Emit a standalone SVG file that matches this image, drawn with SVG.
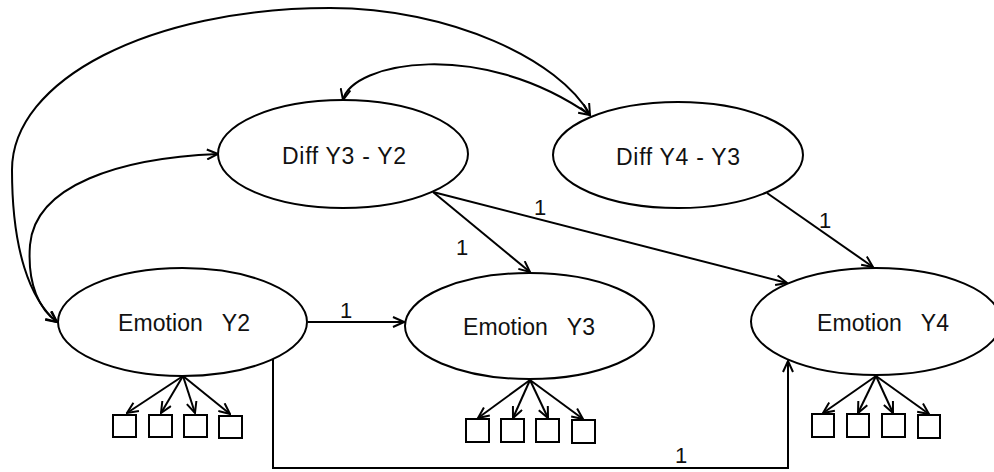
<svg xmlns="http://www.w3.org/2000/svg" width="994" height="472" viewBox="0 0 994 472">
<style>
.node ellipse{fill:#fff;stroke:#000;stroke-width:2}
.node rect{fill:#fff;stroke:#000;stroke-width:2}
.lbl{font-family:"Liberation Sans",Arial,sans-serif;font-size:23px;fill:#111;text-anchor:middle}
.w{font-family:"Liberation Sans",Arial,sans-serif;font-size:22px;fill:#111;text-anchor:middle}
.e{fill:none;stroke:#000;stroke-width:2}
.a{marker-end:url(#ah)}
.b{marker-end:url(#ah);marker-start:url(#ah)}
</style>
<defs>
<marker id="ah" viewBox="-1 -1 13 12" refX="11" refY="5" markerWidth="13" markerHeight="12" markerUnits="userSpaceOnUse" orient="auto-start-reverse">
<path d="M0,0 L11,5 L0,10" fill="none" stroke="#000" stroke-width="2"/>
</marker>
</defs>
<rect width="994" height="472" fill="#fff"/>
<g id="connectors">
<path class="e b" d="M590 115 C 560 60, 450 8, 330 8 C 150 8, 12 80, 12 170 C 12 250, 30 300, 57 322"/>
<path class="e b" d="M218 154 C 120 158, 35 185, 30 245 C 27 285, 40 310, 57 322"/>
<path class="e b" d="M343 100 C 352 62, 480 38, 590 115"/>
<path class="e a" d="M308 322 L404 322"/>
<path class="e a" d="M433 192 L530 272"/>
<path class="e a" d="M433 192 L787 283"/>
<path class="e a" d="M767 193 L873 267"/>
<path class="e a" d="M273 359 L273 468 L788 468 L788 361"/>
<path class="e a" d="M183 376 L127 413"/>
<path class="e a" d="M183 376 L161 413"/>
<path class="e a" d="M183 376 L195 413"/>
<path class="e a" d="M183 376 L230 414"/>
<path class="e a" d="M530 380 L478 418"/>
<path class="e a" d="M530 380 L513 418"/>
<path class="e a" d="M530 380 L548 418"/>
<path class="e a" d="M530 380 L583 419"/>
<path class="e a" d="M876 376 L823 413"/>
<path class="e a" d="M876 376 L858 413"/>
<path class="e a" d="M876 376 L893 413"/>
<path class="e a" d="M876 376 L929 414"/>
<text class="w" x="346" y="318">1</text>
<text class="w" x="462" y="255">1</text>
<text class="w" x="540" y="215">1</text>
<text class="w" x="825" y="228">1</text>
<text class="w" x="681" y="463">1</text>
</g>
<g id="diff32" class="node">
<ellipse cx="343" cy="154" rx="125" ry="54"/>
<text class="lbl" x="344" y="164" textLength="124" lengthAdjust="spacing">Diff Y3 - Y2</text>
</g>
<g id="diff43" class="node">
<ellipse cx="678" cy="155" rx="125" ry="53"/>
<text class="lbl" x="678" y="165" textLength="124" lengthAdjust="spacing">Diff Y4 - Y3</text>
</g>
<g id="emo2" class="node">
<ellipse cx="182.5" cy="322" rx="124.5" ry="54"/>
<text class="lbl" x="184" y="331" xml:space="preserve" textLength="132" lengthAdjust="spacing">Emotion   Y2</text>
</g>
<g id="emo3" class="node">
<ellipse cx="529.5" cy="326" rx="124.5" ry="53"/>
<text class="lbl" x="529" y="335" xml:space="preserve" textLength="132" lengthAdjust="spacing">Emotion   Y3</text>
</g>
<g id="emo4" class="node">
<ellipse cx="876" cy="321.5" rx="125" ry="53.5"/>
<text class="lbl" x="883" y="331" xml:space="preserve" textLength="132" lengthAdjust="spacing">Emotion   Y4</text>
</g>
<g id="ind2a" class="node"><rect x="113" y="415" width="23" height="22"/></g>
<g id="ind2b" class="node"><rect x="149" y="415" width="23" height="22"/></g>
<g id="ind2c" class="node"><rect x="184" y="415" width="23" height="22"/></g>
<g id="ind2d" class="node"><rect x="219" y="416" width="23" height="22"/></g>
<g id="ind3a" class="node"><rect x="466" y="419" width="23" height="23"/></g>
<g id="ind3b" class="node"><rect x="501" y="419" width="23" height="23"/></g>
<g id="ind3c" class="node"><rect x="536" y="419" width="23" height="23"/></g>
<g id="ind3d" class="node"><rect x="572" y="420" width="23" height="23"/></g>
<g id="ind4a" class="node"><rect x="812" y="414" width="22" height="23"/></g>
<g id="ind4b" class="node"><rect x="847" y="414" width="22" height="23"/></g>
<g id="ind4c" class="node"><rect x="882" y="414" width="23" height="23"/></g>
<g id="ind4d" class="node"><rect x="918" y="415" width="22" height="23"/></g>
</svg>
